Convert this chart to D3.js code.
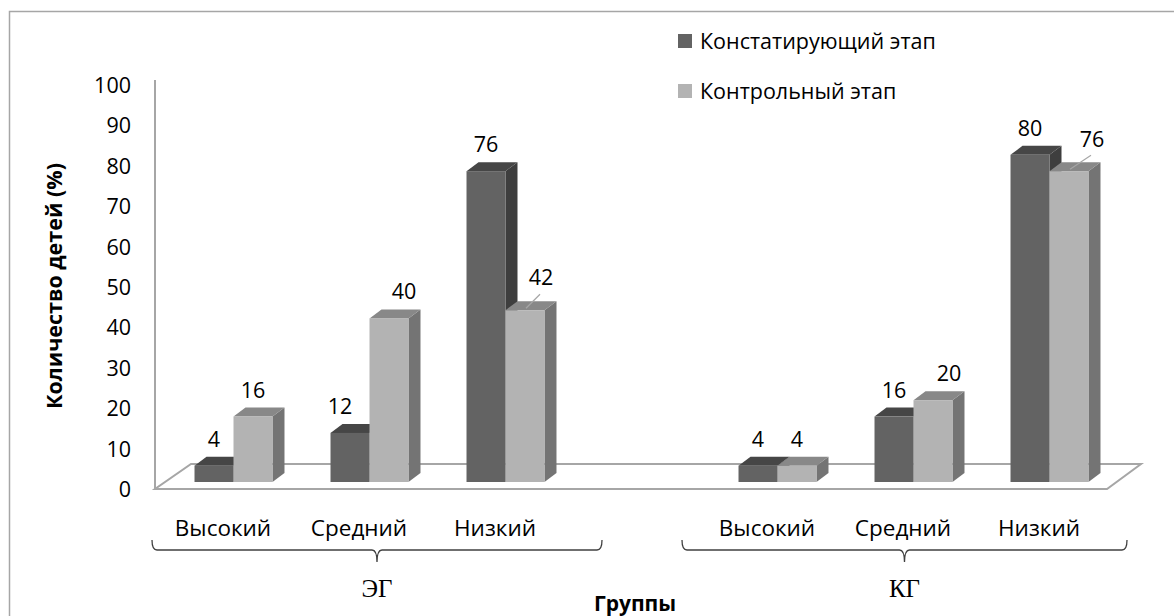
<!DOCTYPE html>
<html>
<head>
<meta charset="utf-8">
<script src="https://cdn.jsdelivr.net/npm/d3@7"></script>
<style>
  body { margin: 0; background: #fff; }
  svg { display: block; }
</style>
</head>
<body>
<div id="chart"></div>
<script>
// data
const groups = ["ЭГ", "КГ"]
const levels = ["Высокий", "Средний", "Низкий"]
const seriesNames = ["Констатирующий этап", "Контрольный этап"]
const konstValues = [4, 12, 76, 4, 16, 80]
const kontrValues = [16, 40, 42, 4, 20, 76]
const yTicks = [0, 10, 20, 30, 40, 50, 60, 70, 80, 90, 100]

// layout
const W = 1174, H = 616
const font = "'Open Sans', sans-serif"
const frontColors = ["#636363", "#b3b3b3"]
const topColors = ["#464646", "#888888"]
const sideColors = ["#3e3e3e", "#747474"]
const depth = {dx: 12, dy: -9}
const floorDepth = {dx: 34, dy: -25}
// the braces under the groups were drawn by hand, not to the slots
const braceSpans = [[152, 602], [682, 1127]]
// some value labels were dragged aside in the original
const labelMoves = [
    {s: 0, i: 1, dx: -10, dy: 0},
    {s: 1, i: 1, dx: 15, dy: 0},
    {s: 1, i: 2, dx: 16, dy: -6, leader: true},
    {s: 1, i: 4, dx: 16, dy: 0},
    {s: 1, i: 5, dx: 23, dy: -5, leader: true}
]

const svg = d3.select("#chart").append("svg")
    .attr("width", W)
    .attr("height", H)

// outer frame (runs off the right and bottom edge)
svg.append("rect")
    .attr("x", 9.5).attr("y", 11.5)
    .attr("width", W + 20).attr("height", H + 20)
    .attr("fill", "none")
    .attr("stroke", "#a6a6a6")
    .attr("stroke-width", 1.5)

// slots: 3 levels, an empty gap, 3 levels
const slots = []
groups.forEach((g, gi) => {
    if (gi > 0) slots.push("gap")
    levels.forEach(l => slots.push(g + "|" + l))
})
const cats = []
groups.forEach(g => levels.forEach(l => cats.push(g + "|" + l)))

const x0 = d3.scaleBand().domain(slots).range([155, 1107]).padding(0)
const x1 = d3.scaleBand().domain(seriesNames).range([0, x0.bandwidth()])
    .paddingInner(0).paddingOuter(0.744)
const y = d3.scaleLinear().domain([0, 100]).range([489, 85])
const yBar = d3.scaleLinear().domain([0, 100]).range([482, 73])
const frontShift = 10.5

// floor and axis line
const fl = 155, fr = 1107, fy = 489
svg.append("path")
    .attr("d", `M${fl},${fy} L${fr},${fy} L${fr + floorDepth.dx},${fy + floorDepth.dy} L${fl + floorDepth.dx + 2},${fy + floorDepth.dy} Z`)
    .attr("fill", "none")
    .attr("stroke", "#a6a6a6")
    .attr("stroke-width", 2)
svg.append("line")
    .attr("x1", fl).attr("x2", fl)
    .attr("y1", 80).attr("y2", fy)
    .attr("stroke", "#a6a6a6")
    .attr("stroke-width", 2)

// y tick labels
const yAxis = d3.axisLeft(y).tickValues(yTicks).tickSize(0).tickPadding(0)
const yg = svg.append("g")
    .attr("transform", "translate(131,0)")
    .call(yAxis)
yg.select(".domain").remove()
yg.selectAll("text")
    .attr("font-family", font)
    .attr("font-size", 21.5)
    .attr("fill", "#000")
    .attr("dy", "0.35em")

// y title
svg.append("text")
    .attr("transform", "translate(62,286) rotate(-90)")
    .attr("text-anchor", "middle")
    .attr("font-family", font)
    .attr("font-weight", "bold")
    .attr("font-size", 21.5)
    .text("Количество детей (%)")

// bars
const allValues = [konstValues, kontrValues]
const barsG = svg.append("g")
cats.forEach((c, i) => {
    allValues.forEach((vals, s) => {
        const v = vals[i]
        const bx = x0(c) + x1(seriesNames[s]) + frontShift
        const bw = x1.bandwidth()
        const yt = yBar(v), yb = yBar(0)
        const g = barsG.append("g")
        g.append("path")
            .attr("d", `M${bx + bw},${yt} L${bx + bw + depth.dx},${yt + depth.dy} L${bx + bw + depth.dx},${yb + depth.dy} L${bx + bw},${yb} Z`)
            .attr("fill", sideColors[s])
        g.append("path")
            .attr("d", `M${bx},${yt} L${bx + depth.dx},${yt + depth.dy} L${bx + bw + depth.dx},${yt + depth.dy} L${bx + bw},${yt} Z`)
            .attr("fill", topColors[s])
        g.append("rect")
            .attr("x", bx).attr("y", yt)
            .attr("width", bw).attr("height", yb - yt)
            .attr("fill", frontColors[s])
    })
})

// value labels
cats.forEach((c, i) => {
    allValues.forEach((vals, s) => {
        const v = vals[i]
        const cx = x0(c) + x1(seriesNames[s]) + frontShift + x1.bandwidth() / 2
        const yt = yBar(v)
        const mv = labelMoves.find(m => m.s === s && m.i === i) || {dx: 0, dy: 0}
        if (mv.leader) {
            svg.append("line")
                .attr("x1", cx + 1).attr("y1", yt - 2)
                .attr("x2", cx + mv.dx - 1).attr("y2", yt - 16)
                .attr("stroke", "#a6a6a6")
                .attr("stroke-width", 1.2)
        }
        svg.append("text")
            .attr("x", cx + mv.dx)
            .attr("y", yt - 19 + mv.dy)
            .attr("text-anchor", "middle")
            .attr("font-family", font)
            .attr("font-size", 21.5)
            .text(v)
    })
})

// category labels
svg.append("g").selectAll("text")
    .data(cats)
    .join("text")
    .attr("x", d => x0(d) + x0.bandwidth() / 2)
    .attr("y", 536)
    .attr("text-anchor", "middle")
    .attr("font-family", font)
    .attr("font-size", 22.5)
    .text(d => d.split("|")[1])

// group braces and names
groups.forEach((g, gi) => {
    const [left, right] = braceSpans[gi]
    const mid = (left + right) / 2
    const top = 540, line = 550, tip = 562
    svg.append("path")
        .attr("d", `M${left},${top} Q${left},${line} ${left + 5},${line} L${mid - 5},${line} Q${mid},${line} ${mid},${tip} Q${mid},${line} ${mid + 5},${line} L${right - 5},${line} Q${right},${line} ${right},${top}`)
        .attr("fill", "none")
        .attr("stroke", "#404040")
        .attr("stroke-width", 1.3)
    svg.append("text")
        .attr("x", mid)
        .attr("y", 597)
        .attr("text-anchor", "middle")
        .attr("font-family", "'Liberation Serif', 'Times New Roman', serif")
        .attr("font-size", 25)
        .text(g)
})

// x title
svg.append("text")
    .attr("x", 635)
    .attr("y", 611)
    .attr("text-anchor", "middle")
    .attr("font-family", font)
    .attr("font-weight", "bold")
    .attr("font-size", 21)
    .text("Группы")

// legend
const legend = svg.append("g")
seriesNames.forEach((n, s) => {
    const ly = 41 + s * 50
    legend.append("rect")
        .attr("x", 678).attr("y", ly - 7)
        .attr("width", 14).attr("height", 14)
        .attr("fill", frontColors[s])
    legend.append("text")
        .attr("x", 700).attr("y", ly)
        .attr("dy", "0.35em")
        .attr("font-family", font)
        .attr("font-size", 21.5)
        .text(n)
})
</script>
</body>
</html>
